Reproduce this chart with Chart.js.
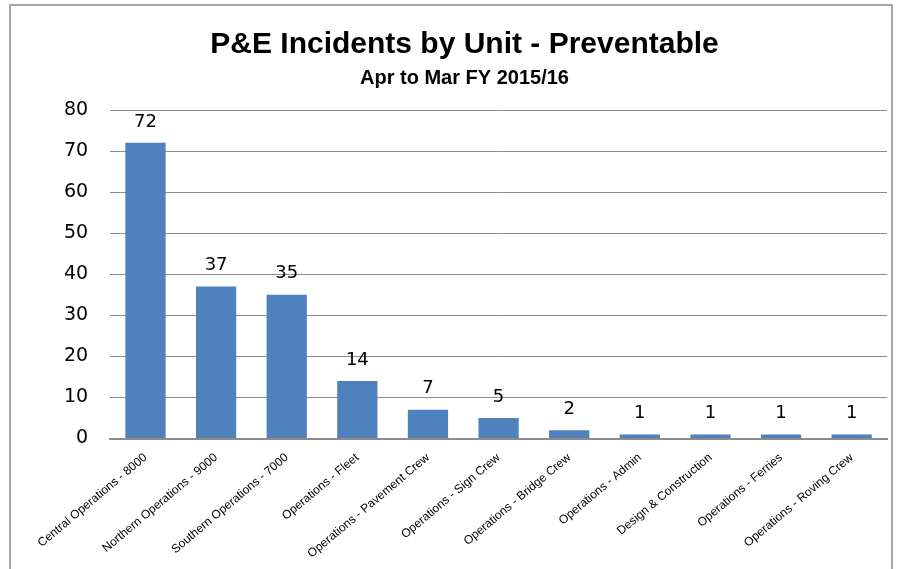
<!DOCTYPE html>
<html>
<head>
<meta charset="utf-8">
<script src="https://cdn.jsdelivr.net/npm/chart.js@4/dist/chart.umd.min.js"></script>
<style>
  body { margin: 0; background: #fff; }
  #frame { position: absolute; left: 9px; top: 4px; width: 884px; height: 580px; border: 2px solid #a6a6a6; box-sizing: border-box; }
  #wrap { position: absolute; left: 0; top: 0; width: 902px; height: 569px; }
</style>
</head>
<body>
<div id="frame"></div>
<div id="wrap"><canvas id="chart1"></canvas></div>
<script>
// units and preventable incident counts, Apr to Mar FY 2015/16
const units = ['Central Operations - 8000', 'Northern Operations - 9000', 'Southern Operations - 7000',
               'Operations - Fleet', 'Operations - Pavement Crew', 'Operations - Sign Crew',
               'Operations - Bridge Crew', 'Operations - Admin', 'Design & Construction',
               'Operations - Ferries', 'Operations - Roving Crew'];
const incidents = [72, 37, 35, 14, 7, 5, 2, 1, 1, 1, 1];
const yTicks = [0, 10, 20, 30, 40, 50, 60, 70, 80];

// draws the value above each bar
const valueLabels = {
    id: 'valueLabels',
    afterDatasetsDraw(chart) {
        const ctx = chart.ctx;
        const meta = chart.getDatasetMeta(0);
        ctx.save();
        ctx.font = '18px "DejaVu Sans"';
        ctx.fillStyle = '#000';
        ctx.textAlign = 'center';
        ctx.textBaseline = 'bottom';
        meta.data.forEach(function(bar, i) {
            ctx.fillText(incidents[i], bar.x, bar.y - 12);
        });
        ctx.restore();
    }
};

document.addEventListener("DOMContentLoaded", function() {
    const ctx1 = document.getElementById('chart1').getContext('2d');
    new Chart(ctx1, {
        type: 'bar',
        data: {
            labels: units,
            datasets: [{
                label: 'Incidents',
                data: incidents,
                backgroundColor: '#4f81bd',
                categoryPercentage: 1,
                barPercentage: 0.57
            }]
        },
        plugins: [valueLabels],
        options: {
            responsive: true,
            maintainAspectRatio: false,
            animation: false,
            layout: { padding: { left: 42, right: 15, top: 6, bottom: 4 } },
            plugins: {
                legend: { display: false },
                tooltip: { enabled: false },
                title: {
                    display: true,
                    text: 'P&E Incidents by Unit - Preventable',
                    color: '#000',
                    font: { family: '"Liberation Sans"', size: 30, weight: 'bold' },
                    padding: { top: 21, bottom: 3 }
                },
                subtitle: {
                    display: true,
                    text: 'Apr to Mar FY 2015/16',
                    color: '#000',
                    font: { family: '"Liberation Sans"', size: 20, weight: 'bold' },
                    padding: { top: 0, bottom: 20 }
                }
            },
            scales: {
                y: {
                    min: 0,
                    max: 80,
                    afterBuildTicks: function(axis) {
                        axis.ticks = yTicks.map(function(v) { return { value: v }; });
                    },
                    border: { display: false },
                    grid: { color: '#8c8c8c', lineWidth: 1, drawTicks: false },
                    ticks: {
                        color: '#000',
                        padding: 22,
                        font: { family: '"DejaVu Sans"', size: 19 }
                    }
                },
                x: {
                    border: { display: true, color: '#8c8c8c', width: 2 },
                    grid: { display: false },
                    ticks: {
                        color: '#000',
                        minRotation: 40,
                        maxRotation: 40,
                        autoSkip: false,
                        padding: 4,
                        font: { family: '"Liberation Sans"', size: 12 }
                    }
                }
            }
        }
    });
});
</script>
</body>
</html>
